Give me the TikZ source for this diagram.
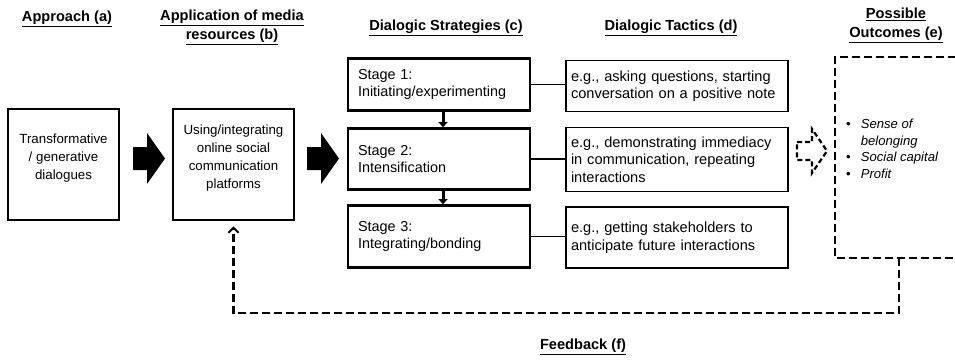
\documentclass[tikz,border=0pt]{standalone}
\usepackage{fontspec}
\setmainfont{Liberation Sans}
\usetikzlibrary{arrows.meta}
\begin{document}
\begin{tikzpicture}[x=1pt,y=-1pt,
  hdr/.style={font=\fontsize{14.6}{19}\selectfont\bfseries, align=center, inner sep=0pt},
  bigbox/.style={draw, line width=2.7pt, minimum width=111pt, minimum height=111pt, inner sep=0pt},
  boxtxt/.style={font=\fontsize{13.3}{18}\selectfont, align=center, inner sep=0pt},
  stagebox/.style={draw, line width=2.7pt, minimum height=#1, text width=162pt, inner xsep=10pt, inner ysep=0pt, align=left, font=\fontsize{14.4}{17}\selectfont},
  tacticbox/.style={draw, line width=1.3pt, minimum height=#1, text width=212pt, inner xsep=5pt, inner ysep=0pt, align=left, font=\fontsize{14.6}{17.5}\selectfont},
  thinline/.style={line width=1.2pt},
  stagearrow/.style={line width=3pt, -{Triangle[width=9pt,length=5pt]}},
  dline/.style={line width=2.5pt, dash pattern=on 8pt off 4pt},
  darrow/.style={line width=2.2pt, dash pattern=on 5pt off 3pt, line join=miter}
]
\useasboundingbox (0,0) rectangle (955,359);

% headers
\node[hdr] (ha) at (67,19) {\underline{Approach (a)}};
\node[hdr] (hb) at (232,27) {\underline{Application of media}\\\underline{resources (b)}};
\node[hdr] (hc) at (446,28) {\underline{Dialogic Strategies (c)}};
\node[hdr] (hd) at (671,28) {\underline{Dialogic Tactics (d)}};
\node[hdr] (he) at (896,25) {\underline{Possible}\\\underline{Outcomes (e)}};
\node[hdr] (hf) at (583,347) {\underline{Feedback (f)}};

% boxes a and b
\node[bigbox] (a) at (63.5,164.5) {};
\node[boxtxt] (atxt) at (63.5,158.5) {Transformative\\/ generative\\dialogues};
\node[bigbox, minimum width=121pt] (b) at (233.5,164.5) {};
\node[boxtxt] (btxt) at (233.5,158.5) {Using/integrating\\online social\\communication\\platforms};

% big black arrows
\fill (133,147) -- (147,147) -- (147,133) -- (165,158.5) -- (147,184) -- (147,170) -- (133,170) -- cycle;
\fill (307,147) -- (321,147) -- (321,133) -- (339,158.5) -- (321,184) -- (321,170) -- (307,170) -- cycle;

% stages
\node[stagebox=52pt] (s1) at (439,84.5) {Stage 1:\\Initiating/experimenting};
\node[stagebox=61pt] (s2) at (439,159) {Stage 2:\\Intensification};
\node[stagebox=62pt] (s3) at (439,236.5) {Stage 3:\\Integrating/bonding};
\draw[stagearrow] ([xshift=4pt]s1.south) -- ([xshift=4pt]s2.north);
\draw[stagearrow] ([xshift=4pt]s2.south) -- ([xshift=4pt]s3.north);

% tactics
\node[tacticbox=51pt] (t1) at (677,86) {e.g., asking questions, starting\\conversation on a positive note};
\node[tacticbox=64pt] (t2) at (677,159.5) {e.g., demonstrating immediacy\\in communication, repeating\\interactions};
\node[tacticbox=61pt] (t3) at (677,237.5) {e.g., getting stakeholders to\\anticipate future interactions};
\draw[thinline] (s1.east) -- (s1.east -| t1.west);
\draw[thinline] (s2.east) -- (s2.east -| t2.west);
\draw[thinline] (s3.east) -- (s3.east -| t3.west);

% dashed outline arrow
\draw[darrow] (797,142) -- (812,142) -- (812,129) -- (827,151) -- (812,173) -- (812,160) -- (797,160) -- cycle;

% outcomes box (open on the right)
\coordinate (eTR) at (956,57);
\coordinate (eTL) at (835,57);
\coordinate (eBL) at (835,258);
\coordinate (eBR) at (956,258);
\coordinate (fb) at (899,258);
\draw[dline] (eTR) -- (eTL) -- (eBL) -- (eBR);
\node[anchor=west, inner sep=0pt, font=\fontsize{13.1}{16.5}\selectfont] (etxt) at (846,150)
  {\begin{tabular}{@{}l@{\hspace{10pt}}l@{}}
   \textbullet & \textit{Sense of}\\
               & \textit{belonging}\\
   \textbullet & \textit{Social capital}\\
   \textbullet & \textit{Profit}
   \end{tabular}};

% feedback loop
\draw[dline, -{Straight Barb[length=5pt,width=10pt,line width=2pt]}, shorten >=5pt]
  (fb) -- (899,313) -| (b.south);
\end{tikzpicture}
\end{document}
